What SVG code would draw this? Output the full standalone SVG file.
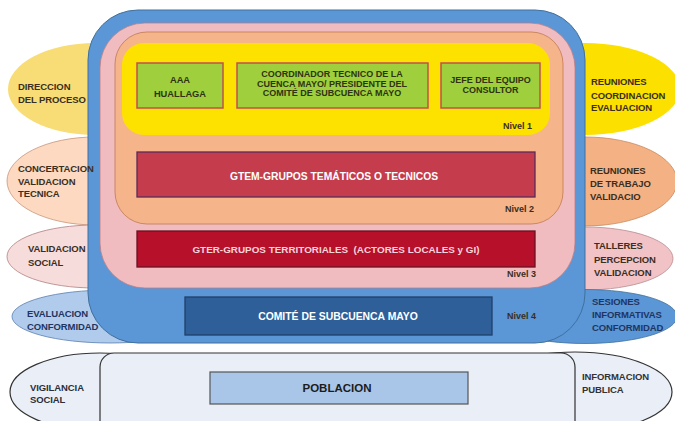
<svg xmlns="http://www.w3.org/2000/svg" width="675" height="421" viewBox="0 0 675 421">
<style>
.lbl{font-family:"Liberation Sans",Arial,sans-serif;font-weight:bold;font-size:9.5px;letter-spacing:-0.1px;fill:#3a2f1f}
.nav{fill:#1f3561}
.box{font-family:"Liberation Sans",Arial,sans-serif;font-weight:bold;font-size:9px;fill:#2e3312;text-anchor:middle}
.big{font-family:"Liberation Sans",Arial,sans-serif;font-weight:bold;text-anchor:middle}
.niv{font-family:"Liberation Sans",Arial,sans-serif;font-weight:bold;font-size:9px;fill:#3a2f1f}
.green{fill:#9fcf3c;stroke:#c0504d;stroke-width:1.5}
</style>
<rect width="675" height="421" fill="#ffffff"/>
<g id="ovals-right">
<ellipse id="r1" cx="585" cy="89" rx="95" ry="46" fill="#fbe000"/>
<ellipse id="r2" cx="585" cy="181.5" rx="92" ry="44.5" fill="#f4b183" stroke="#c98a60" stroke-width="0.8"/>
<ellipse id="r3" cx="585" cy="258.5" rx="88" ry="31.5" fill="#f2c3c6" stroke="#b88a8e" stroke-width="0.8"/>
<ellipse id="r4" cx="585" cy="316.5" rx="92" ry="27" fill="#5b96d6" stroke="#41719c" stroke-width="0.8"/>
<ellipse id="r5" cx="575" cy="392" rx="97" ry="40" fill="#e9eef7" stroke="#333" stroke-width="1.2"/>
</g>
<g id="ovals-left">
<ellipse id="l1" cx="95" cy="89" rx="87" ry="46" fill="#f8dc75"/>
<ellipse id="l2" cx="95" cy="181" rx="88" ry="44" fill="#fcd9c0" stroke="#c9967a" stroke-width="0.8"/>
<ellipse id="l3" cx="95" cy="256.5" rx="88" ry="31.5" fill="#f7dcdc" stroke="#b08080" stroke-width="0.8"/>
<ellipse id="l4" cx="110" cy="316.5" rx="98" ry="26.5" fill="#b1cbec" stroke="#5a7fae" stroke-width="0.8"/>
<ellipse id="l5" cx="100" cy="392" rx="90" ry="39" fill="#e9eef7" stroke="#333" stroke-width="1.2"/>
</g>
<g id="nivel4">
<rect x="88" y="10" width="497" height="333" rx="50" fill="#5b96d6" stroke="#41719c" stroke-width="1"/>
</g>
<g id="nivel3">
<rect x="100" y="23" width="475" height="265" rx="45" fill="#f0bcc0" stroke="#b97f86" stroke-width="0.8"/>
</g>
<g id="nivel2">
<rect x="115" y="32" width="448" height="192" rx="32" fill="#f6b48a" stroke="#c07a50" stroke-width="0.8"/>
</g>
<g id="nivel1">
<rect x="122" y="43" width="428" height="92" rx="22" fill="#fde200"/>
</g>
<g id="connectors"></g>
<g id="aaa">
<rect class="green" x="137" y="63" width="86" height="45"/>
<text class="box" font-size="9.3" style="font-size:9.3px" x="180" y="83">AAA</text>
<text class="box" style="font-size:9.3px" x="180" y="97">HUALLAGA</text>
</g>
<g id="coordinador">
<rect class="green" x="237" y="63" width="191" height="45"/>
<text class="box" x="332" y="77">COORDINADOR TECNICO DE LA</text>
<text class="box" x="332" y="86.5">CUENCA MAYO/ PRESIDENTE DEL</text>
<text class="box" x="332" y="96">COMITÉ DE SUBCUENCA MAYO</text>
</g>
<g id="jefe">
<rect class="green" x="441" y="63" width="99" height="45"/>
<text class="box" x="490.5" y="83">JEFE DEL EQUIPO</text>
<text class="box" x="490.5" y="93">CONSULTOR</text>
</g>
<g id="gtem">
<rect x="137" y="152" width="398" height="45" fill="#c53c4c" stroke="#5b2a5a" stroke-width="1.3"/>
<text class="big" x="334" y="180" style="font-size:10.3px;fill:#ffffff">GTEM-GRUPOS TEMÁTICOS O TECNICOS</text>
</g>
<g id="gter">
<rect x="137" y="231" width="398" height="36" fill="#b7102b" stroke="#6b1020" stroke-width="1.3"/>
<text class="big" x="336" y="253" style="font-size:9.9px;fill:#f8d4dc;white-space:pre">GTER-GRUPOS TERRITORIALES  (ACTORES LOCALES y GI)</text>
</g>
<g id="comite">
<rect x="185" y="297" width="307" height="38" fill="#2e5f99" stroke="#1f3f6a" stroke-width="1.3"/>
<text class="big" x="338" y="320" style="font-size:10.4px;fill:#ffffff">COMITÉ DE SUBCUENCA MAYO</text>
</g>
<g id="niveles">
<text class="niv" x="503" y="129">Nivel 1</text>
<text class="niv" x="505" y="212">Nivel 2</text>
<text class="niv" x="507" y="277">Nivel 3</text>
<text class="niv nav" x="507" y="319">Nivel 4</text>
</g>
<g id="poblacion-area">
<rect x="100" y="353" width="475" height="90" rx="14" fill="#e9eef7" stroke="#333" stroke-width="1.2"/>
</g>
<g id="poblacion">
<rect x="210" y="372" width="258" height="32" fill="#a9c6e8" stroke="#555" stroke-width="1.2"/>
<text class="big" x="337" y="392" style="font-size:11.5px;fill:#1c1c1c">POBLACION</text>
</g>
<g id="labels-left">
<text class="lbl" x="18" y="90">DIRECCION</text>
<text class="lbl" x="18" y="103">DEL PROCESO</text>
<text class="lbl" x="18" y="172">CONCERTACION</text>
<text class="lbl" x="18" y="185">VALIDACION</text>
<text class="lbl" x="18" y="197">TECNICA</text>
<text class="lbl" x="28" y="252">VALIDACION</text>
<text class="lbl" x="28" y="266">SOCIAL</text>
<text class="lbl nav" x="27" y="317">EVALUACION</text>
<text class="lbl nav" x="27" y="330">CONFORMIDAD</text>
<text class="lbl" x="30" y="391" style="fill:#2a2f3a">VIGILANCIA</text>
<text class="lbl" x="30" y="403" style="fill:#2a2f3a">SOCIAL</text>
</g>
<g id="labels-right">
<text class="lbl" x="591" y="85">REUNIONES</text>
<text class="lbl" x="591" y="99">COORDINACION</text>
<text class="lbl" x="591" y="111">EVALUACION</text>
<text class="lbl" x="590" y="174">REUNIONES</text>
<text class="lbl" x="590" y="187">DE TRABAJO</text>
<text class="lbl" x="590" y="200">VALIDACIO</text>
<text class="lbl" x="594" y="249">TALLERES</text>
<text class="lbl" x="594" y="263">PERCEPCION</text>
<text class="lbl" x="594" y="276">VALIDACION</text>
<text class="lbl nav" x="592" y="305">SESIONES</text>
<text class="lbl nav" x="592" y="318">INFORMATIVAS</text>
<text class="lbl nav" x="592" y="331">CONFORMIDAD</text>
<text class="lbl" x="582" y="380" style="fill:#333">INFORMACION</text>
<text class="lbl" x="582" y="393" style="fill:#333">PUBLICA</text>
</g>
</svg>
